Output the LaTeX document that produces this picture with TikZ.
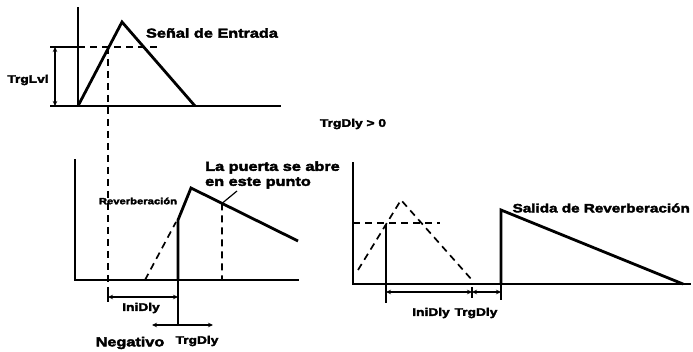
\documentclass[tikz,border=0pt]{standalone}
\usepackage{fontspec}
\newfontfamily\lblfont[FakeStretch=1.25,BoldFeatures={FakeBold=3}]{Liberation Sans}
\usetikzlibrary{arrows.meta,calc}

\begin{document}
\begin{tikzpicture}[x=1pt, y=-1pt,
    axis/.style={line width=2pt, line cap=rect},
    sig/.style={line width=2.8pt, line join=miter},
    guide/.style={line width=1.7pt, dash pattern=on 7pt off 5pt},
    thin/.style={line width=1.2pt},
    dim/.style={line width=1.2pt, {Stealth[length=5pt,width=4.5pt]}-{Stealth[length=5pt,width=4.5pt]}},
    lbl/.style={font=\lblfont\bfseries\fontsize{11}{12}\selectfont, inner sep=0pt},
    title/.style={font=\lblfont\bfseries\fontsize{13}{15}\selectfont, inner sep=0pt}
]
\useasboundingbox (0,0) rectangle (693,352);

% entrada
\coordinate (inTop) at (78,8);
\coordinate (inO) at (78,106);
\coordinate (inEnd) at (280,106);
\coordinate (inPk) at (122,22);
\coordinate (inFin) at (195,106);
\coordinate (lvlL) at (50,47);
\coordinate (lvlA) at (78,47);
\coordinate (lvlR) at (160,47);
\coordinate (lvlX) at (108,47);
\coordinate (baseL) at (50,106);
\draw[axis] (inTop) -- (inO) -- (inEnd);
\draw[sig] (inO) -- (inPk) -- (inFin);
\draw[thin] (lvlL) -- (lvlA);
\draw[thin] (baseL) -- (inO);
\draw[guide] (lvlA) -- (lvlR);
\coordinate (lvlT) at (55,47);
\coordinate (lvlB) at (55,106);
\draw[dim] (lvlT) -- (lvlB);
\node[lbl] (trglvl) at (28,80) {TrgLvl};
\node[title] (senal) at (212,33) {Señal de Entrada};

% reverberacion (TrgDly negativo)
\coordinate (rvTop) at (75,160);
\coordinate (rvO) at (75,280);
\coordinate (rvEnd) at (298,280);
\draw[axis] (rvTop) -- (rvO) -- (rvEnd);
\coordinate (ghost0) at (145,280);
\coordinate (ghost1) at (176,222);
\draw[guide] (ghost0) -- (ghost1);
\coordinate (gate0) at (178,280);
\coordinate (gate1) at (178,220);
\coordinate (rvPk) at (191,188);
\coordinate (rvFin) at (298,241);
\draw[sig] (gate0) -- (gate1) -- (rvPk) -- (rvFin);
\coordinate (gate) at ($(rvPk)!0.29!(rvFin)$);
\coordinate (gateB) at (222,280);
\draw[guide] (gate) -- (gateB);
\coordinate (ptr0) at (237,191);
\draw[thin] (ptr0) -- (gate);

\coordinate (lvlD) at (108,284);
\draw[guide] (lvlX) -- (lvlD);
\coordinate (iniT) at (108,287);
\coordinate (iniB) at (108,302);
\draw[thin] (iniT) -- (iniB);
\coordinate (gateD) at (178,325);
\draw[thin] (gate0) -- (gateD);
\coordinate (ini0) at (108,297);
\coordinate (ini1) at (178,297);
\draw[dim] (ini0) -- (ini1);
\coordinate (neg) at (152,325);
\coordinate (pos) at (213,325);
\draw[thin, -{Stealth[length=5pt,width=4.5pt]}] (gateD) -- (neg);
\draw[thin, -{Stealth[length=5pt,width=4.5pt]}] (gateD) -- (pos);

\node[lbl] (inidlyA) at (141,308) {IniDly};
\node[title] (negativo) at (130,343) {Negativo};
\node[lbl] (trgdlyA) at (197,341) {TrgDly};
\node[lbl, font=\lblfont\bfseries\fontsize{9}{10}\selectfont] (reverb) at (138,201) {Reverberación};
\node[title, anchor=west, align=left] (puerta) at (205,175) {La puerta se abre\\en este punto};
\node[lbl] (trgpos) at (353,124) {TrgDly > 0};

% salida (TrgDly positivo)
\coordinate (outTop) at (353,163);
\coordinate (outO) at (353,284);
\coordinate (outEnd) at (690,284);
\draw[axis] (outTop) -- (outO) -- (outEnd);
\coordinate (tri0) at (358,270);
\coordinate (triPk) at (401,200);
\coordinate (tri1) at (472,280);
\draw[guide] (tri0) -- (triPk) -- (tri1);
\coordinate (hl0) at (353,223);
\coordinate (hl1) at (440,223);
\draw[guide] (hl0) -- (hl1);
\coordinate (trig0) at (386,224);
\coordinate (trig1) at (386,303);
\draw[thin] (trig0) -- (trig1);
\coordinate (out0) at (501,284);
\coordinate (out1) at (501,210);
\coordinate (outFin) at (683,284);
\draw[sig] (out0) -- (out1) -- (outFin);
\coordinate (outD) at (501,300);
\draw[thin] (out0) -- (outD);
\coordinate (midT) at (472,287);
\coordinate (midB) at (472,298);
\draw[thin] (midT) -- (midB);
\coordinate (d0) at (386,292);
\coordinate (d1) at (472,292);
\coordinate (d2) at (501,292);
\draw[dim] (d0) -- (d1);
\draw[dim] (d1) -- (d2);
\node[lbl] (inidlyB) at (431,313) {IniDly};
\node[lbl] (trgdlyB) at (476,313) {TrgDly};
\node[title, anchor=east, font=\lblfont\bfseries\fontsize{12.2}{14}\selectfont] (salida) at (690,208) {Salida de Reverberación};
\end{tikzpicture}
\end{document}
